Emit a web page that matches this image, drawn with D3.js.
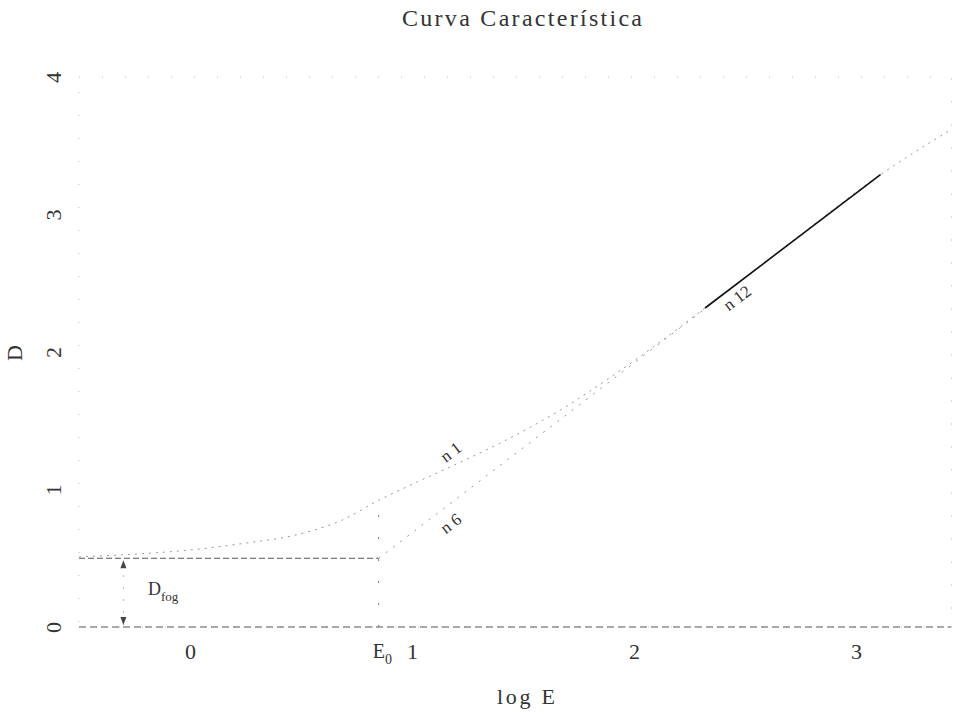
<!DOCTYPE html>
<html>
<head>
<meta charset="utf-8">
<script src="https://cdn.jsdelivr.net/npm/d3@7"></script>
<style>
  body { margin: 0; background: #fff; }
  text { font-family: "Liberation Serif", serif; fill: #333; }
</style>
</head>
<body>
<svg id="chart" width="960" height="716"></svg>
<script>
// characteristic curve (log E vs density)
const curveLogE = [-0.5, -0.25, 0.0, 0.25, 0.45, 0.57, 0.66, 0.86, 0.99, 1.22, 1.40, 1.69, 1.87, 2.03, 2.14, 2.32, 2.70, 3.11, 3.42];
const curveD    = [0.51, 0.53, 0.56, 0.61, 0.66, 0.71, 0.76, 0.93, 1.03, 1.20, 1.34, 1.60, 1.79, 1.97, 2.10, 2.32, 2.79, 3.29, 3.61];

// straight line through E0 (extrapolation of linear part)
const tangentLogE = [0.85, 3.11];
const tangentD    = [0.5, 3.29];

// linear portion of the curve
const straightLogE = [2.32, 3.11];
const straightD    = [2.32, 3.29];

const fogD = 0.5;
const E0 = 0.85;
const e0Top = 0.9;
const fogArrowLogE = -0.3;

const xTicks = [0, 1, 2, 3];
const yTicks = [0, 1, 2, 3, 4];

const labels = [
  { text: 'n 1',  logE: 1.19, d: 1.24 },
  { text: 'n 6',  logE: 1.19, d: 0.72 },
  { text: 'n 12', logE: 2.48, d: 2.36 }
];

const svg = d3.select('#chart');

const x = d3.scaleLinear().domain([-0.5, 3.43]).range([79, 951.5]);
const y = d3.scaleLinear().domain([0, 4]).range([627, 77]);

// faint plot frame
svg.append('rect')
  .attr('x', x(-0.5)).attr('y', y(4))
  .attr('width', x(3.43) - x(-0.5)).attr('height', y(0) - y(4))
  .attr('fill', 'none').attr('stroke', '#bbb').attr('stroke-dasharray', '1,22');

// zero line
svg.append('line')
  .attr('x1', x(-0.5)).attr('x2', x(3.43))
  .attr('y1', y(0)).attr('y2', y(0))
  .attr('stroke', '#555').attr('stroke-dasharray', '7,4');

// fog level
svg.append('line')
  .attr('x1', x(-0.5)).attr('x2', x(E0))
  .attr('y1', y(fogD)).attr('y2', y(fogD))
  .attr('stroke', '#555').attr('stroke-dasharray', '6,3');

// E0 marker
svg.append('line')
  .attr('x1', x(E0)).attr('x2', x(E0))
  .attr('y1', y(0)).attr('y2', y(e0Top))
  .attr('stroke', '#777').attr('stroke-dasharray', '2,20');

// D fog arrow
svg.append('line')
  .attr('x1', x(fogArrowLogE)).attr('x2', x(fogArrowLogE))
  .attr('y1', y(0) - 2).attr('y2', y(fogD) + 2)
  .attr('stroke', '#bbb').attr('stroke-dasharray', '2,10');
[fogD, 0].forEach((d, i) => {
  const px = x(fogArrowLogE), py = y(d) + (i === 0 ? 2 : -2), s = i === 0 ? 1 : -1;
  svg.append('path')
    .attr('d', `M${px},${py} L${px - 3},${py + 8 * s} L${px + 3},${py + 8 * s} Z`)
    .attr('fill', '#444');
});

const line = d3.line().x(d => x(d[0])).y(d => y(d[1]));

svg.append('path')
  .datum(d3.zip(curveLogE, curveD))
  .attr('d', line.curve(d3.curveMonotoneX))
  .attr('fill', 'none').attr('stroke', '#999').attr('stroke-width', 1)
  .attr('stroke-dasharray', '2,5');

svg.append('path')
  .datum(d3.zip(tangentLogE, tangentD))
  .attr('d', line.curve(d3.curveLinear))
  .attr('fill', 'none').attr('stroke', '#999').attr('stroke-width', 1)
  .attr('stroke-dasharray', '2,7');

svg.append('path')
  .datum(d3.zip(straightLogE, straightD))
  .attr('d', line.curve(d3.curveLinear))
  .attr('fill', 'none').attr('stroke', '#111').attr('stroke-width', 1.6);

// rotated labels along the lines
const angle = -Math.atan((y(0) - y(1.23)) / (x(1) - x(0))) * 180 / Math.PI;
svg.selectAll('.lab')
  .data(labels)
  .enter().append('text')
  .attr('class', 'lab')
  .attr('x', d => x(d.logE)).attr('y', d => y(d.d))
  .attr('text-anchor', 'middle')
  .attr('transform', d => `rotate(${angle},${x(d.logE)},${y(d.d)})`)
  .style('font-size', '17px')
  .text(d => d.text);

// axes
const xAxis = svg.append('g')
  .attr('transform', `translate(0,${y(0)})`)
  .call(d3.axisBottom(x).tickValues(xTicks).tickFormat(d3.format('d')).tickSize(0).tickPadding(16));
xAxis.select('.domain').remove();
xAxis.selectAll('text').style('font-size', '22px').style('font-family', '"Liberation Serif", serif').attr('fill', '#333');

const yAxis = svg.append('g')
  .attr('transform', `translate(${x(-0.5)},0)`)
  .call(d3.axisLeft(y).tickValues(yTicks).tickFormat(d3.format('d')).tickSize(0));
yAxis.select('.domain').remove();
yAxis.selectAll('text')
  .attr('x', -18).attr('dy', 0)
  .attr('text-anchor', 'middle')
  .attr('transform', 'rotate(-90,-18,0)')
  .attr('fill', '#333')
  .style('font-size', '22px').style('font-family', '"Liberation Serif", serif');

// E0 and D fog labels
const e0 = svg.append('text').attr('x', x(E0) - 6).attr('y', 658).style('font-size', '20px');
e0.append('tspan').text('E');
e0.append('tspan').attr('dy', 6).style('font-size', '14px').text('0');

const dfog = svg.append('text').attr('x', 148).attr('y', 595).style('font-size', '18px');
dfog.append('tspan').text('D');
dfog.append('tspan').attr('dy', 6).style('font-size', '13px').text('fog');

// titles
svg.append('text')
  .attr('x', 522).attr('y', 26)
  .attr('text-anchor', 'middle')
  .attr('textLength', 240).attr('lengthAdjust', 'spacing')
  .style('font-size', '24px')
  .text('Curva Característica');

svg.append('text')
  .attr('x', 526).attr('y', 704)
  .attr('text-anchor', 'middle')
  .attr('textLength', 58).attr('lengthAdjust', 'spacing')
  .style('font-size', '22px')
  .text('log E');

svg.append('text')
  .attr('transform', 'translate(22,353) rotate(-90)')
  .attr('text-anchor', 'middle')
  .style('font-size', '22px')
  .text('D');
</script>
</body>
</html>
